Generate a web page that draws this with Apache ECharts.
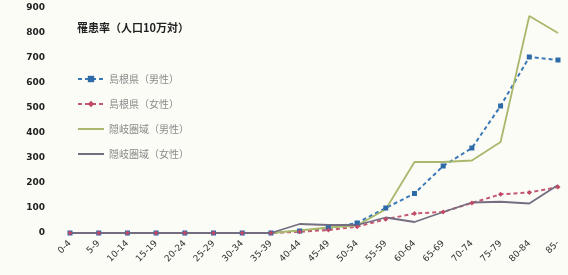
<!DOCTYPE html>
<html><head><meta charset="utf-8">
<script src="https://cdn.jsdelivr.net/npm/echarts@6/dist/echarts.min.js"></script>
<style>html,body{margin:0;padding:0;background:#fcfcf7;}#c{width:568px;height:275px;}</style>
</head><body><div id="c"></div>
<script>
var categories = ['0-4','5-9','10-14','15-19','20-24','25-29','30-34','35-39','40-44','45-49','50-54','55-59','60-64','65-69','70-74','75-79','80-84','85-'];
var shimaneMale   = [0,0,0,0,0,0,0,0,8,20,40,100,158,268,340,508,704,692];
var shimaneFemale = [0,0,0,0,0,0,0,0,5,12,25,55,78,84,120,155,162,184];
var okiMale       = [0,0,0,0,0,0,0,0,10,22,30,95,284,284,290,364,868,800];
var okiFemale     = [0,0,0,0,0,0,0,0,36,32,32,62,44,84,122,125,118,192];
var yTicks = [0,100,200,300,400,500,600,700,800,900];
var names = ['島根県（男性）','島根県（女性）','隠岐圏域（男性）','隠岐圏域（女性）'];

var chart = echarts.init(document.getElementById('c'));
chart.setOption({
  backgroundColor: '#fcfcf7',
  animation: false,
  title: {text: '罹患率（人口10万対）', left: 72, top: 17,
    textStyle: {fontSize: 11, fontWeight: 'bold', color: '#222', fontFamily: 'Noto Sans CJK JP'}},
  legend: {orient: 'vertical', left: 72, top: 69, itemGap: 15, itemWidth: 26, itemHeight: 8,
    textStyle: {fontSize: 10, color: '#8a8a8a', fontFamily: 'Noto Sans CJK JP'},
    data: [names[0], names[1], {name: names[2], itemStyle: {opacity: 0}}, {name: names[3], itemStyle: {opacity: 0}}]},
  grid: {left: 70, right: 10, top: 8, bottom: 42},
  xAxis: {type: 'category', data: categories, boundaryGap: false,
    axisLine: {show: false}, axisTick: {show: false},
    axisLabel: {rotate: 45, fontSize: 9, color: '#333', margin: 9, interval: 0, fontFamily: 'DejaVu Sans'}},
  yAxis: {type: 'value', min: 0, max: 900, interval: 100,
    axisLine: {show: false}, axisTick: {show: false}, splitLine: {show: false},
    axisLabel: {fontSize: 9, color: '#222', margin: 25, fontWeight: 'bold', fontFamily: 'DejaVu Sans',
      formatter: function (v) { return yTicks.indexOf(v) >= 0 ? String(v) : ''; }}},
  series: [
    {name: names[0], type: 'line', data: shimaneMale, symbol: 'rect', symbolSize: 5,
      lineStyle: {color: '#3a78b8', width: 2, type: [4,3]}, itemStyle: {color: '#2f6aa8'}},
    {name: names[1], type: 'line', data: shimaneFemale, symbol: 'diamond', symbolSize: 5,
      lineStyle: {color: '#c45a72', width: 2, type: [4,3]}, itemStyle: {color: '#c04a66'}},
    {name: names[2], type: 'line', data: okiMale, symbol: 'none',
      lineStyle: {color: '#a9b86c', width: 1.8}, itemStyle: {color: '#a9b86c'}},
    {name: names[3], type: 'line', data: okiFemale, symbol: 'none',
      lineStyle: {color: '#756d80', width: 1.8}, itemStyle: {color: '#756d80'}}
  ]
});
</script></body></html>
